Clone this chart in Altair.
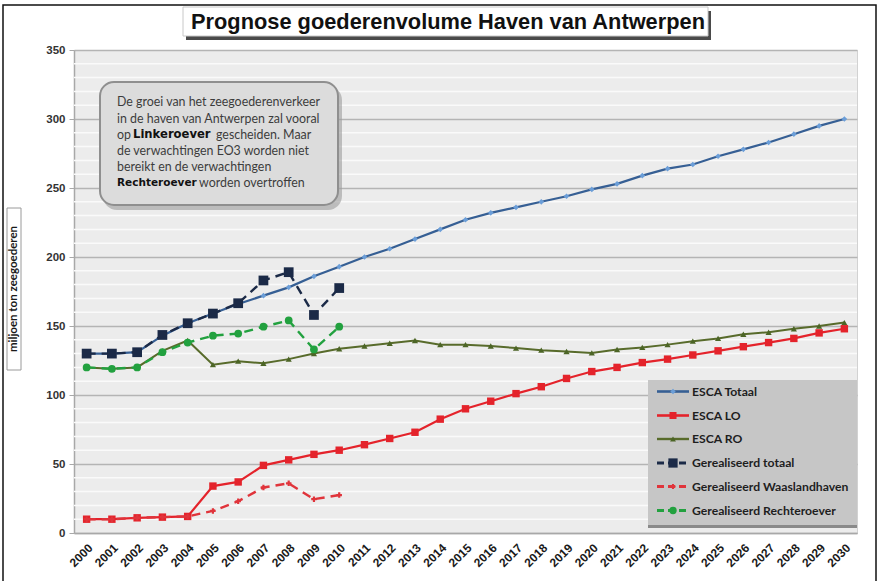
import altair as alt
import pandas as pd

# --- data -----------------------------------------------------------------
years = ["2000", "2001", "2002", "2003", "2004", "2005", "2006", "2007", "2008",
         "2009", "2010", "2011", "2012", "2013", "2014", "2015", "2016", "2017",
         "2018", "2019", "2020", "2021", "2022", "2023", "2024", "2025", "2026",
         "2027", "2028", "2029", "2030"]

esca_totaal = [130, 130, 131, 143, 152, 159, 166, 172, 178, 186, 193, 200, 206,
               213, 220, 227, 232, 236, 240, 244, 249, 253, 259, 264, 267, 273,
               278, 283, 289, 295, 300]
esca_lo = [10, 10, 11, 11.5, 12, 34, 37, 49, 53, 57, 60, 64, 68.5, 73, 82.5, 90,
           95.5, 101, 106, 112, 117, 120, 123.5, 126, 129, 132, 135, 138, 141,
           145, 148]
esca_ro = [120, 119, 120, 132, 139.5, 122, 124.5, 123, 126, 130, 133.5, 135.5,
           137.5, 139.5, 136.5, 136.5, 135.5, 134, 132.5, 131.5, 130.5, 133,
           134.5, 136.5, 139, 141, 144, 145.5, 148, 150, 152.5]

realised_years = years[:11]
ger_totaal = [130, 130, 131, 143.5, 152, 159, 166.5, 183, 189, 158, 177.5]
ger_waasland = [10, 10, 11, 11.5, 12, 16, 23, 33, 36, 24.5, 27.5]
ger_rechteroever = [120, 119, 120, 131, 138, 143, 144.5, 149.5, 154, 133, 149.5]

series_names = ["ESCA Totaal", "ESCA LO", "ESCA RO", "Gerealiseerd totaal",
                "Gerealiseerd Waaslandhaven", "Gerealiseerd Rechteroever"]

y_ticks = [0, 50, 100, 150, 200, 250, 300, 350]

frames = {
    "ESCA Totaal": pd.DataFrame({"year": years, "value": esca_totaal}),
    "ESCA LO": pd.DataFrame({"year": years, "value": esca_lo}),
    "ESCA RO": pd.DataFrame({"year": years, "value": esca_ro}),
    "Gerealiseerd totaal": pd.DataFrame({"year": realised_years, "value": ger_totaal}),
    "Gerealiseerd Waaslandhaven": pd.DataFrame({"year": realised_years, "value": ger_waasland}),
    "Gerealiseerd Rechteroever": pd.DataFrame({"year": realised_years, "value": ger_rechteroever}),
}

# line colour, dash, marker shape, marker size, marker colour, line width
styles = {
    "ESCA Totaal": ("#365f94", [], "diamond", 32, "#6b9ed8", 2.2),
    "ESCA LO": ("#e4232b", [], "square", 55, "#e4232b", 2.2),
    "ESCA RO": ("#586b2b", [], "triangle-up", 38, "#4c6526", 2.0),
    "Gerealiseerd totaal": ("#1b2a47", [9, 6], "square", 95, "#1b2a47", 2.4),
    "Gerealiseerd Waaslandhaven": ("#e0343b", [9, 6], "cross", 30, "#e0343b", 2.4),
    "Gerealiseerd Rechteroever": ("#22a13f", [9, 6], "circle", 60, "#22a13f", 2.4),
}

FONT = "Liberation Sans"
W, H = 783, 483

x_enc = alt.X(
    "year:O",
    sort=years,
    scale=alt.Scale(type="point", padding=0.5, domain=years),
    axis=alt.Axis(title=None, labelAngle=-45, labelFont=FONT, labelFontSize=12,
                  labelFontWeight="bold", labelColor="#1a1a1a",
                  domainColor="#a8a8a8", domainWidth=1.5, ticks=False,
                  labelPadding=9, grid=False),
)
y_enc = alt.Y(
    "value:Q",
    scale=alt.Scale(domain=[0, 350], nice=False, zero=True),
    axis=alt.Axis(title=None, values=y_ticks, labelFont=FONT, labelFontSize=11.5,
                  labelFontWeight="bold", labelColor="#333333",
                  grid=True, gridColor="#b4b4b4", gridWidth=1.5,
                  domainColor="#a8a8a8", domainWidth=1.5, tickColor="#a8a8a8",
                  tickSize=5, labelPadding=4),
)

one = pd.DataFrame({"k": [0]})
layers = []

# faint minor stripes every 10 units between the major gridlines
minor = pd.DataFrame({"value": [v for v in range(10, 350, 10) if v % 50]})
layers.append(
    alt.Chart(minor).mark_rule(color="#fafafa", strokeWidth=1.5).encode(y=y_enc)
)

# data series
draw_order = ["ESCA RO", "ESCA LO", "ESCA Totaal", "Gerealiseerd Rechteroever",
              "Gerealiseerd Waaslandhaven", "Gerealiseerd totaal"]
for name in draw_order:
    col, dash, shape, size, mcol, lw = styles[name]
    base = alt.Chart(frames[name])
    line_kw = dict(color=col, strokeWidth=lw)
    if dash:
        line_kw["strokeDash"] = dash
    layers.append(base.mark_line(**line_kw).encode(x=x_enc, y=y_enc))
    layers.append(
        base.mark_point(shape=shape, size=size, filled=True, color=mcol, opacity=1)
        .encode(x=x_enc, y=y_enc)
    )

# outer frame
layers.append(
    alt.Chart(one).mark_rect(fill=None, stroke="#111111", strokeWidth=1.5).encode(
        x=alt.value(-71), x2=alt.value(802), y=alt.value(-45), y2=alt.value(560))
)

# title with shadowed box
layers.append(
    alt.Chart(one).mark_rect(fill="#4a4a4a").encode(
        x=alt.value(112), x2=alt.value(637), y=alt.value(-39), y2=alt.value(-10))
)
layers.append(
    alt.Chart(one).mark_rect(fill="#ffffff", stroke="#c8c8c8", strokeWidth=1).encode(
        x=alt.value(109), x2=alt.value(634), y=alt.value(-43), y2=alt.value(-14))
)
layers.append(
    alt.Chart(one).mark_text(text="Prognose goederenvolume Haven van Antwerpen",
                             font=FONT, fontSize=21.8, fontWeight="bold",
                             color="#111111", align="center", baseline="middle")
    .encode(x=alt.value(374), y=alt.value(-28))
)

# y-axis title
layers.append(
    alt.Chart(one).mark_rect(fill=None, stroke="#9a9a9a", strokeWidth=1).encode(
        x=alt.value(-67), x2=alt.value(-53), y=alt.value(158), y2=alt.value(320))
)
layers.append(
    alt.Chart(one).mark_text(text="miljoen ton zeegoederen", font="Lato",
                             fontSize=11.5, fontWeight="bold", color="#1a1a1a",
                             angle=270, align="center", baseline="middle")
    .encode(x=alt.value(-60), y=alt.value(239))
)

# annotation box
layers.append(
    alt.Chart(one).mark_rect(fill="#9c9c9c", cornerRadius=14, opacity=0.6).encode(
        x=alt.value(29), x2=alt.value(268), y=alt.value(36), y2=alt.value(160))
)
layers.append(
    alt.Chart(one).mark_rect(fill="#dcdcdc", stroke="#8f8f8f", strokeWidth=2,
                             cornerRadius=14).encode(
        x=alt.value(26), x2=alt.value(264), y=alt.value(32), y2=alt.value(155))
)
note_parts = [
    ("De groei van het zeegoederenverkeer", 43, 52, "normal", 12.4),
    ("in de haven van Antwerpen zal vooral", 43, 68.5, "normal", 12.4),
    ("op", 43, 84.5, "normal", 12.4),
    ("Linkeroever", 59, 84.5, "bold", 11.6),
    ("gescheiden. Maar", 142, 84.5, "normal", 12.4),
    ("de verwachtingen EO3 worden niet", 43, 100.5, "normal", 12.4),
    ("bereikt en de verwachtingen", 43, 116.5, "normal", 12.4),
    ("Rechteroever", 43, 133, "bold", 10.5),
    ("worden overtroffen", 125, 133, "normal", 12.4),
]
for txt, px, py, wt, fs in note_parts:
    bold = wt == "bold"
    layers.append(
        alt.Chart(one).mark_text(text=txt,
                                 font="DejaVu Sans" if bold else "Lato",
                                 fontSize=fs, fontWeight=wt,
                                 color="#111111" if bold else "#3c3c3c",
                                 align="left", baseline="middle")
        .encode(x=alt.value(px), y=alt.value(py))
    )

# legend panel
layers.append(
    alt.Chart(one).mark_rect(fill="#c6c6c6").encode(
        x=alt.value(574), x2=alt.value(783), y=alt.value(330), y2=alt.value(478))
)
layers.append(
    alt.Chart(one).mark_rect(fill="#8a8a8a").encode(
        x=alt.value(574), x2=alt.value(783), y=alt.value(475), y2=alt.value(478))
)
legend_rows = [341.5, 365.5, 389, 413, 436.5, 460.5]
for name, ly in zip(series_names, legend_rows):
    col, dash, shape, size, mcol, lw = styles[name]
    rule_kw = dict(color=col, strokeWidth=lw + 0.4)
    if dash:
        rule_kw["strokeDash"] = [7, 4]
    layers.append(
        alt.Chart(one).mark_rule(**rule_kw).encode(
            x=alt.value(583), x2=alt.value(615), y=alt.value(ly))
    )
    layers.append(
        alt.Chart(one).mark_point(shape=shape, size=size * 0.9, filled=True,
                                  color=mcol, opacity=1)
        .encode(x=alt.value(599), y=alt.value(ly))
    )
    layers.append(
        alt.Chart(one).mark_text(text=name, font="Lato", fontSize=12.2,
                                 fontWeight="bold", color="#1e1e1e",
                                 align="left", baseline="middle")
        .encode(x=alt.value(618), y=alt.value(ly))
    )

chart = (
    alt.layer(*layers)
    .properties(width=W, height=H,
                autosize=alt.AutoSizeParams(type="none"),
                padding={"left": 74, "top": 50, "right": 22, "bottom": 48},
                background="#ffffff")
    .configure_view(fill="#ececec", stroke="#d2d2d2", strokeWidth=1)
)

chart.save("out.html", embed_options={"renderer": "svg", "actions": False})
